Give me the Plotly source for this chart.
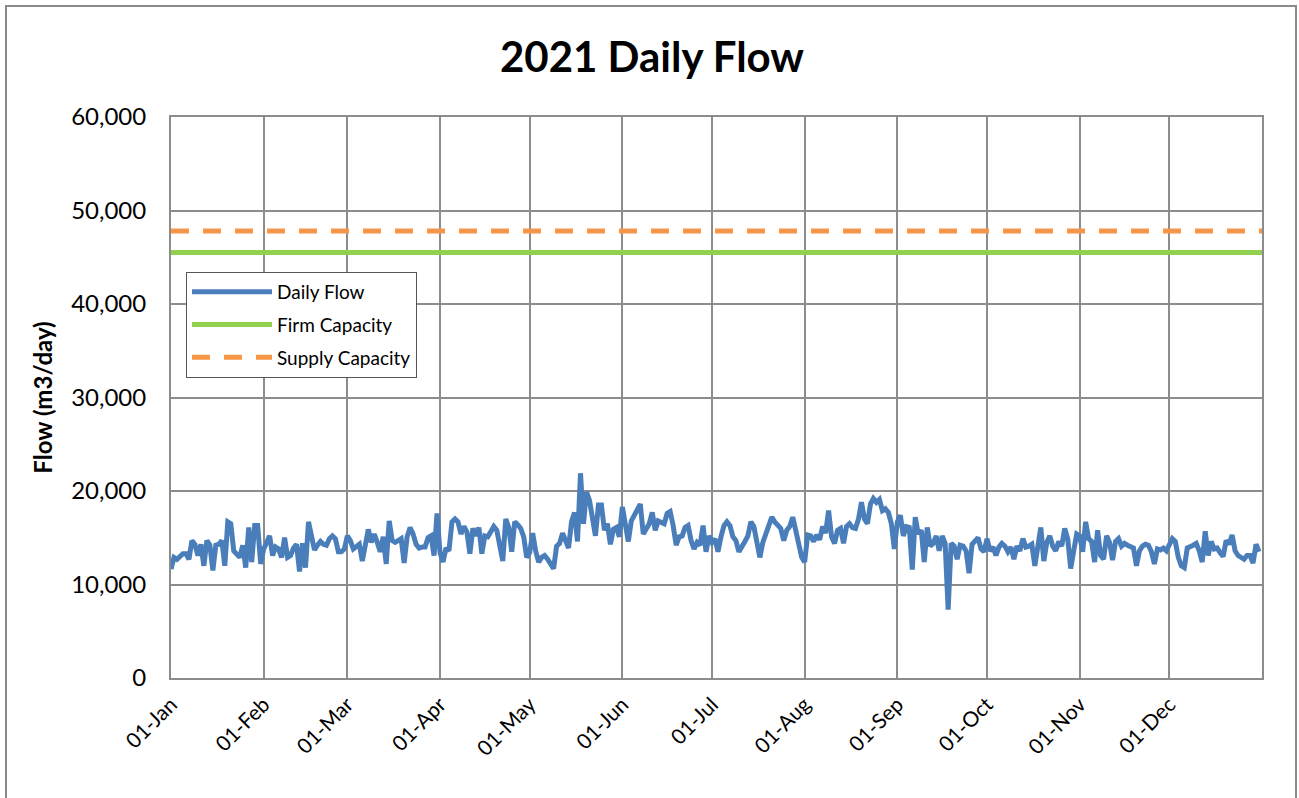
import datetime as dt
import plotly.graph_objects as go

# ---- data (m3/day) ----
jan = [11650, 12900, 12700, 13100, 13300, 13300, 12700, 14700, 14300, 13100, 14300, 12000, 14700, 14200, 11500, 14200,
       14300, 14700, 12000, 16700, 16500, 13600, 13300, 12900, 14200, 11800, 16100, 12400, 16300, 16300, 12200]
feb = [13800, 14500, 15200, 13100, 14000, 13800, 12900, 15000, 12900, 13100, 13900, 14300, 11400, 14400, 11800, 16700,
       15100, 13700, 14200, 14600, 14300, 14200, 14900, 15200, 14900, 13500, 13500, 13800]
mar = [15200, 14700, 13800, 14100, 14300, 12500, 14300, 15900, 14500, 15400, 14500, 13500, 15100, 12200, 16800, 14700,
       14500, 14700, 14900, 12300, 15100, 16100, 15400, 14300, 13900, 14000, 14000, 15000, 15200, 13100, 17600]
apr = [13400, 12400, 13900, 13600, 16700, 17000, 16700, 15400, 16200, 15600, 13300, 16000, 15200, 16100, 13300, 15200,
       15100, 15600, 16200, 15800, 13800, 12500, 17000, 16100, 13500, 16700, 16400, 16000, 15100, 12900]
may = [13400, 15500, 13600, 12400, 12900, 13100, 12700, 12200, 11700, 14100, 14400, 15500, 14800, 13900, 16700, 17700,
       14600, 21900, 16500, 19900, 19000, 16800, 15200, 18500, 18500, 15800, 16500, 14300, 15900, 16100, 15100]
jun = [18300, 16700, 14600, 16800, 17400, 17900, 18600, 15400, 15900, 16500, 17700, 15800, 16800, 16700, 16500, 17600,
       17800, 16300, 14200, 15100, 15200, 16100, 16300, 14700, 13800, 14500, 14200, 16300, 13500, 15200]
jul = [14500, 14900, 13500, 15100, 16300, 16700, 16300, 15100, 14700, 13500, 14200, 14600, 15200, 16700, 16200, 14500,
       12900, 14500, 15400, 16500, 17200, 16700, 16400, 16000, 14700, 15800, 16200, 17200, 15800, 14300, 12900]
aug = [12400, 15300, 15200, 14600, 15300, 14800, 16200, 15500, 17900, 15100, 14400, 15800, 16000, 14400, 16200, 16500,
       16100, 16000, 17000, 18800, 17000, 16500, 18600, 19200, 18800, 19100, 17900, 18100, 17700, 16500, 13800]
sep = [16700, 17400, 15200, 16200, 16100, 11600, 17200, 15400, 15800, 12400, 16100, 14100, 14400, 15200, 13600, 15200,
       14400, 7300, 14400, 14100, 12700, 14200, 14100, 13600, 11200, 14300, 14600, 15000, 13800, 13500]
oct_ = [14900, 13600, 14000, 13100, 14000, 14400, 14100, 13500, 14000, 12700, 14100, 13600, 14900, 14000, 14100, 14300,
        12000, 14300, 16100, 12500, 14500, 15200, 14100, 13600, 14600, 14100, 16000, 14900, 11700, 13600, 15400]
nov = [15200, 13500, 16700, 14900, 14600, 12400, 15800, 13100, 12700, 15200, 14500, 12600, 14600, 14900, 14100, 14400,
       14200, 14100, 13900, 12000, 13600, 14100, 14300, 14200, 13500, 12200, 13800, 13700, 13900, 13600]
dec = [14300, 14900, 14600, 12900, 12000, 11800, 13900, 14000, 14200, 14400, 13600, 12400, 15700, 13100, 14600, 13800,
       13900, 13400, 13000, 14700, 14300, 15300, 13600, 13100, 12900, 12700, 13100, 13100, 12300, 14300, 13500]

daily_flow = jan + feb + mar + apr + may + jun + jul + aug + sep + oct_ + nov + dec
firm_capacity = 45500
supply_capacity = 47800
month_ticks = ["2021-%02d-01" % m for m in range(1, 13)]
y_ticks = [0, 10000, 20000, 30000, 40000, 50000, 60000]

start = dt.date(2021, 1, 1)
dates = [start + dt.timedelta(days=i) for i in range(len(daily_flow))]
x_end = dt.date(2022, 1, 1)

GRID = "#8c8c8c"
FONT = "Lato, Carlito, Calibri, sans-serif"

fig = go.Figure()
fig.add_trace(go.Scatter(x=dates, y=daily_flow, mode="lines", name="Daily Flow", legendgroup="a",
                         line=dict(color="#4a7ebb", width=5)))
fig.add_trace(go.Scatter(x=[start, x_end], y=[firm_capacity, firm_capacity], mode="lines", legendgroup="b",
                         name="Firm Capacity", line=dict(color="#92d050", width=5)))
fig.add_trace(go.Scatter(x=[start, x_end], y=[supply_capacity, supply_capacity], mode="lines", legendgroup="c",
                         name="Supply Capacity", line=dict(color="#f79646", width=5, dash="18px,14px")))

# plot area 171..1262 x 117..678 in screen coords
PW, PH = 1091, 561
fig.update_layout(
    width=1299, height=798,
    margin=dict(l=171, r=37, t=117, b=120),
    paper_bgcolor="white", plot_bgcolor="white",
    font=dict(family=FONT, color="black"),
    title=dict(text="<b>2021 Daily Flow</b>", xref="container", x=652 / 1299, xanchor="center",
               yref="container", y=1 - 57 / 798, yanchor="middle",
               font=dict(size=42, family=FONT, color="black")),
    showlegend=True,
    legend=dict(x=(186 - 171) / PW, y=(678 - 272) / PH, xanchor="left", yanchor="top",
                bgcolor="white", bordercolor="#555555", borderwidth=1,
                font=dict(size=19, family=FONT), tracegroupgap=5, itemwidth=80),
    shapes=[dict(type="rect", xref="paper", yref="paper",
                 x0=(6 - 171) / PW, x1=1 + (1296 - 1262) / PW,
                 y0=-(805 - 678) / PH, y1=1 + (117 - 6) / PH,
                 line=dict(color="#8a8a8a", width=2), fillcolor="rgba(0,0,0,0)", layer="below")],
)

fig.update_xaxes(range=[start, x_end], tickvals=month_ticks, tickformat="%d-%b", tickangle=-45,
                 showgrid=True, gridcolor=GRID, gridwidth=2,
                 showline=True, linecolor=GRID, linewidth=2, mirror=True,
                 ticks="", ticklabelstandoff=4,
                 tickfont=dict(size=21, family=FONT, color="black"), zeroline=False)
fig.update_yaxes(range=[0, 60000], tickvals=y_ticks, tickformat=",",
                 showgrid=True, gridcolor=GRID, gridwidth=2,
                 showline=True, linecolor=GRID, linewidth=2, mirror=True,
                 ticks="", ticklabelstandoff=18,
                 tickfont=dict(size=24, family=FONT, color="black"), zeroline=False,
                 title=dict(text="<b>Flow (m3/day)</b>", font=dict(size=24, family=FONT, color="black"),
                            standoff=12))

fig.write_html("out.html", config={"displayModeBar": False},
               post_script="document.body.style.margin='0px';")
